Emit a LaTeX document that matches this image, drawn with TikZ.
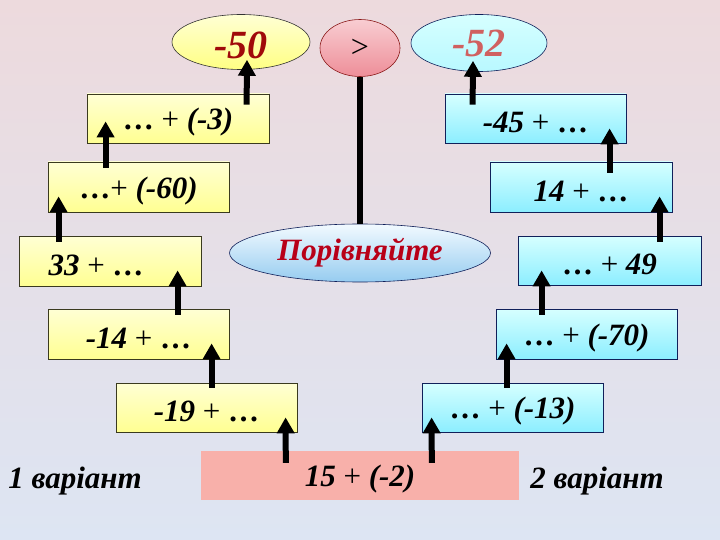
\documentclass[tikz,border=0pt]{standalone}
\usepackage{fontspec}
\setmainfont{Liberation Serif}
\usetikzlibrary{shapes.geometric,arrows.meta,calc}
\definecolor{bgtop}{HTML}{EDDADD}
\definecolor{bgmid}{HTML}{D2D9EC}
\definecolor{bgbot}{HTML}{DDE5F3}
\definecolor{ytop}{HTML}{FFFFD4}
\definecolor{ybot}{HTML}{FFFF92}
\definecolor{ybord}{HTML}{3A3A1E}
\definecolor{ctop}{HTML}{D6FFFF}
\definecolor{cbot}{HTML}{8CEEFF}
\definecolor{cbord}{HTML}{10205A}
\definecolor{ptop}{HTML}{F8CDD2}
\definecolor{pbot}{HTML}{EE8E98}
\definecolor{pbord}{HTML}{8B1A1A}
\definecolor{btop}{HTML}{F2FAFF}
\definecolor{bbot}{HTML}{96CCF0}
\definecolor{redbox}{HTML}{F8B0AA}
\definecolor{darkred}{HTML}{A00A0A}
\definecolor{softred}{HTML}{D06060}
\definecolor{porred}{HTML}{B80018}
\newcommand\pl{\textup{\mdseries +}}
\newcommand\dt{\textup{…}}
\newcommand\bt[1]{\raisebox{-4pt}[\height][\depth]{#1}}
\begin{document}
\begin{tikzpicture}[x=1pt,y=-1pt,
  boxtext/.style={font=\fontsize{31}{33}\selectfont\bfseries\itshape, text=black},
  ybox/.style={rectangle, draw=ybord, line width=0.8pt, top color=ytop, bottom color=ybot,
    minimum width=182pt, minimum height=49pt, inner sep=0pt, boxtext},
  cbox/.style={rectangle, draw=cbord, line width=0.8pt, top color=ctop, bottom color=cbot,
    minimum width=182pt, minimum height=49pt, inner sep=0pt, boxtext},
  arr/.style={line width=6pt, -{Triangle[width=17pt,length=16pt]}, black},
  lbl/.style={font=\fontsize{31}{33}\selectfont\bfseries\itshape, text=black, inner sep=0pt}]
\shade[top color=bgtop, middle color=bgmid, bottom color=bgbot] (0,0) rectangle (720,540);
\useasboundingbox (0,0) rectangle (720,540);

% top ellipses
\node[ellipse, draw=black!80, line width=0.6pt, top color=ytop, bottom color=ybot!90!yellow,
  minimum width=138pt, minimum height=55pt, inner sep=0pt,
  font=\fontsize{40}{42}\selectfont\bfseries\itshape, text=darkred] (e50) at (241,42) {\raisebox{-3pt}[\height][\depth]{-50}};
\node[ellipse, draw=pbord, line width=0.6pt, top color=ptop, bottom color=pbot,
  minimum width=80pt, minimum height=57pt, inner sep=0pt,
  font=\fontsize{32}{34}\selectfont, text=black] (egt) at (360,48) {>};
\node[ellipse, draw=cbord, line width=0.6pt, top color=ctop, bottom color=ctop!60!cbot,
  minimum width=136pt, minimum height=57pt, inner sep=0pt,
  font=\fontsize{40}{42}\selectfont\bfseries\itshape, text=softred] (e52) at (479,43) {-52};

% boxes variant 1
\node[ybox] (b3) at (178,118.5) {\bt{\dt\ \pl\ (-3)}};
\node[ybox, minimum width=181pt, minimum height=50pt] (b60) at (138.5,187) {\bt{\dt\pl\ (-60)}};
\node[ybox, minimum height=50pt] (b33) at (110,261) {\bt{33 \pl\ \dt\hspace*{28pt}}};
\node[ybox, minimum width=181pt, minimum height=50pt] (bm14) at (138.5,334) {\bt{-14 \pl\ \dt}};
\node[ybox, minimum width=181pt] (bm19) at (206.5,407.5) {\bt{-19 \pl\ \dt}};

% boxes variant 2
\node[cbox, minimum width=181pt] (b45) at (535.5,118.5) {\bt{-45 \pl\ \dt}};
\node[cbox, minimum height=50pt] (b14) at (581,187) {\bt{14 \pl\ \dt}};
\node[cbox, minimum width=183pt] (b49) at (609.5,260.5) {\bt{\dt\ \pl\ 49}};
\node[cbox, minimum width=181pt, minimum height=50pt] (b70) at (586.5,334) {\bt{\dt\ \pl\ (-70)}};
\node[cbox, minimum width=181pt] (b13) at (512.5,407.5) {\bt{\dt\ \pl\ (-13)}};

% centre
\node[ellipse, draw=cbord, line width=0.6pt, top color=btop, bottom color=bbot,
  minimum width=261pt, minimum height=58pt, inner sep=0pt,
  font=\fontsize{31}{33}\selectfont\bfseries\itshape, text=porred] (epor) at (360,253) {Порівняйте};
\node[rectangle, fill=redbox, minimum width=318pt, minimum height=49pt, inner sep=0pt, boxtext] (red) at (360,475.5) {\bt{15 \pl\ (-2)}};

\node[lbl] (v1) at (75,481) {1 варіант};
\node[lbl] (v2) at (597,481) {2 варіант};

% connector
\draw[line width=6pt, black] (egt.south) -- (epor.north);

% arrows variant 1
\draw[arr] ($(red.north west)+(85,12)$) -- ($(bm19.south west)+(170,-15)$);
\draw[arr] ($(bm19.north west)+(96,5)$) -- ($(bm14.south west)+(164,-16)$);
\draw[arr] ($(bm14.north west)+(130,6)$) -- ($(b33.south west)+(159,-16)$);
\draw[arr] ($(b33.north west)+(40,6)$) -- ($(b60.south west)+(11,-16)$);
\draw[arr] ($(b60.north west)+(58,6)$) -- ($(b3.south west)+(19,-22)$);
\draw[arr] ($(b3.north west)+(160,11)$) -- ($(e50.south)+(6,-10)$);

% arrows variant 2
\draw[arr] ($(red.north west)+(231,12)$) -- ($(b13.south west)+(10,-15)$);
\draw[arr] ($(b13.north west)+(85,5)$) -- ($(b70.south west)+(11,-16)$);
\draw[arr] ($(b70.north west)+(46,6)$) -- ($(b49.south west)+(24,-15)$);
\draw[arr] ($(b49.north west)+(142,6)$) -- ($(b14.south west)+(170,-16)$);
\draw[arr] ($(b14.north west)+(120,11)$) -- ($(b45.south west)+(165,-15)$);
\draw[arr] ($(b45.north west)+(28,11)$) -- ($(e52.south)+(-6,-11)$);
\end{tikzpicture}
\end{document}
